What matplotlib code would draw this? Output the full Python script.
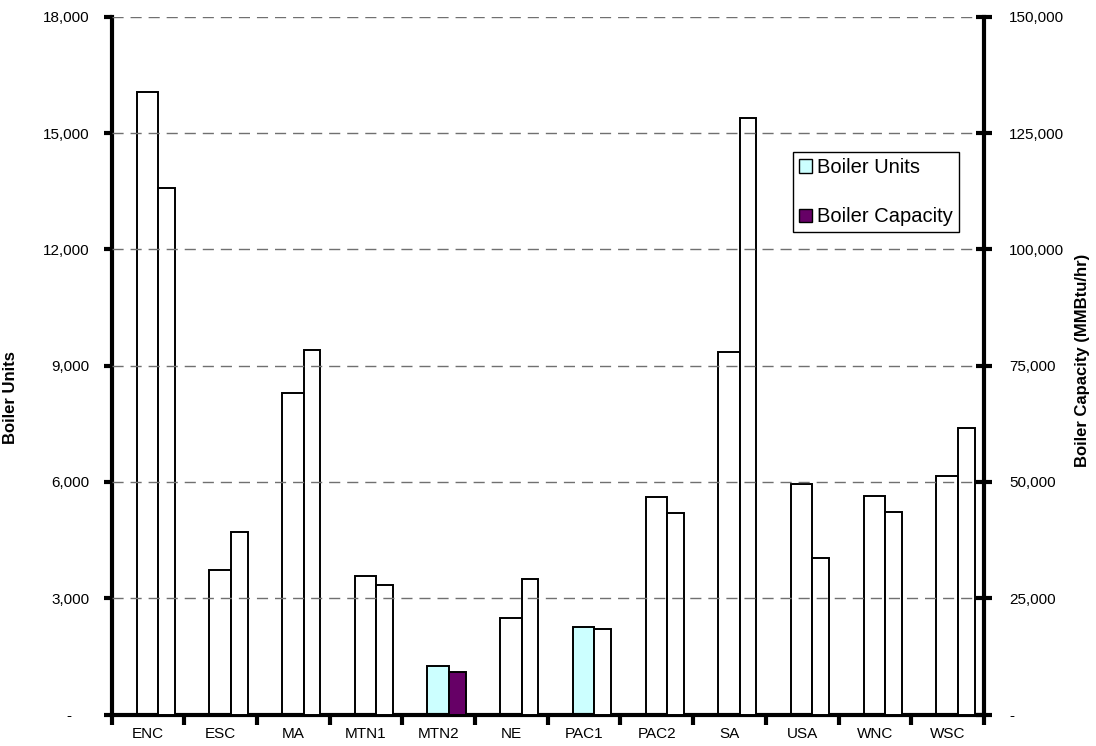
import matplotlib
matplotlib.use("Agg")
import matplotlib.pyplot as plt
from matplotlib.patches import Patch
from matplotlib.ticker import FuncFormatter, FixedLocator
import numpy as np

plt.rcParams["font.family"] = ["Liberation Sans", "DejaVu Sans"]

regions = ["ENC", "ESC", "MA", "MTN1", "MTN2", "NE", "PAC1", "PAC2",
           "SA", "USA", "WNC", "WSC"]
boiler_units = [16050, 3740, 8300, 3575, 1260, 2500, 2250, 5605,
                9345, 5940, 5645, 6155]
boiler_capacity = [113100, 39250, 78450, 27850, 9200, 29200, 18400, 43400,
                   128200, 33700, 43600, 61600]

# a few bars carry the series colour, the rest are left white
UNITS_COLOR = "#ccffff"
CAP_COLOR = "#660066"
units_fill = {"MTN2": UNITS_COLOR, "PAC1": UNITS_COLOR}
cap_fill = {"MTN2": CAP_COLOR}


def fmt(v, _pos):
    return "-" if v == 0 else f"{v:,.0f}"


def fmt_left(v, _pos):
    return "-    " if v == 0 else f"{v:,.0f}"


fig = plt.figure(figsize=(10.96, 7.46), dpi=100)
ax = fig.add_axes([0.1018, 0.0421, 0.796, 0.9354])
ax2 = ax.twinx()

x = np.arange(len(regions))
w1, w2 = 0.295, 0.23
ax.bar(x - 0.155, boiler_units, w1, align="edge",
       color=[units_fill.get(r, "white") for r in regions],
       edgecolor="black", linewidth=1.4, zorder=2)
ax2.bar(x + 0.14, boiler_capacity, w2, align="edge",
        color=[cap_fill.get(r, "white") for r in regions],
        edgecolor="black", linewidth=1.4, zorder=2)

ax.set_xlim(-0.5, len(regions) - 0.5)
ax.set_ylim(0, 18000)
ax2.set_ylim(0, 150000)
ax.set_yticks(np.arange(0, 18001, 3000))
ax2.set_yticks(np.arange(0, 150001, 25000))
ax.yaxis.set_major_formatter(FuncFormatter(fmt_left))
ax2.yaxis.set_major_formatter(FuncFormatter(fmt))

ax.set_xticks(x)
ax.set_xticklabels(regions)
ax.xaxis.set_minor_locator(FixedLocator(np.arange(-0.5, len(regions), 1.0)))
ax.tick_params(axis="x", which="major", length=0, pad=9, labelsize=11)
ax.tick_params(axis="x", which="minor", direction="out", length=7, width=3)
ax.tick_params(axis="y", direction="out", length=6, width=3, pad=10,
               labelsize=11)
ax2.tick_params(axis="y", direction="inout", length=12, width=3, pad=12,
                labelsize=11)

# dashed grid on the top axes so it shows over the white bars
ax2.set_axisbelow(False)
ax2.grid(axis="y", color="#707070", linestyle=(0, (8, 5)), linewidth=1,
         zorder=3)
ax2.yaxis.get_gridlines()[0].set_visible(False)

for a in (ax, ax2):
    a.spines["top"].set_visible(False)
ax.spines["right"].set_visible(False)
ax2.spines["left"].set_visible(False)
ax2.spines["bottom"].set_visible(False)
ax.spines["left"].set_linewidth(3)
ax.spines["bottom"].set_linewidth(3)
ax2.spines["right"].set_linewidth(3)

ax.set_ylabel("Boiler Units", fontsize=12, fontweight="bold")
ax.yaxis.set_label_coords(-0.107, 0.454)
ax2.set_ylabel("Boiler Capacity (MMBtu/hr)", fontsize=12,
               fontweight="bold")
ax2.yaxis.set_label_coords(1.104, 0.508)

handles = [Patch(facecolor=UNITS_COLOR, edgecolor="black", label="Boiler Units"),
           Patch(facecolor=CAP_COLOR, edgecolor="black", label="Boiler Capacity")]
leg = ax2.legend(handles=handles, loc="upper left",
                 bbox_to_anchor=(0.781, 0.806), fontsize=14.5,
                 handlelength=0.65, handleheight=0.65, handletextpad=0.25,
                 labelspacing=1.5, borderpad=0.3, fancybox=False,
                 framealpha=1, borderaxespad=0)
leg.get_frame().set_edgecolor("black")
leg.get_frame().set_linewidth(1)

fig.savefig("out.png", dpi=100)
